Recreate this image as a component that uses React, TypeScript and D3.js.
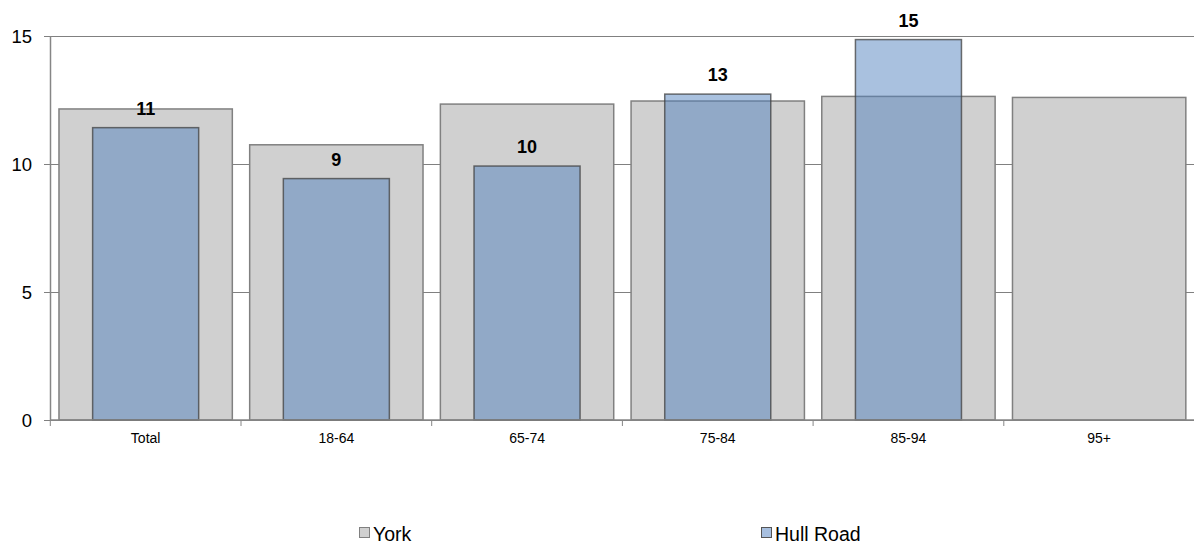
import React from "react";
import * as d3 from "d3";

const categories = ["Total", "18-64", "65-74", "75-84", "85-94", "95+"];
const yorkValues = [12.15, 10.75, 12.34, 12.46, 12.64, 12.6];
const hullRoadValues: (number | null)[] = [11.42, 9.43, 9.92, 12.73, 14.86, null];
const yTicks = [0, 5, 10, 15];
const seriesNames = ["York", "Hull Road"];

const W = 1194;
const H = 545;
const FONT = "Arial, 'Liberation Sans', sans-serif";

export default function App() {
  const x = d3.scaleBand<string>().domain(categories).range([50.3, 1194.5]).padding(0);
  const y = d3.scaleLinear().domain([0, 15]).range([420, 36]);
  const bw = x.bandwidth();
  const grayW = bw * 0.909;
  const blueW = bw * 0.556;

  return (
    <div style={{ position: "absolute", left: 0, top: 0 }}>
      <svg width={W} height={H} style={{ display: "block", fontFamily: FONT }}>
        <rect x={0} y={0} width={W} height={H} fill="#ffffff" />
        {/* gridlines */}
        {yTicks.map((t) => (
          <g key={t}>
            <line x1={44} x2={W} y1={y(t)} y2={y(t)} stroke="#808080" strokeWidth={1} shapeRendering="crispEdges" />
            <text x={32} y={y(t)} dy="0.36em" textAnchor="end" fontSize={18.5} fill="#000">
              {t}
            </text>
          </g>
        ))}
        {/* York bars */}
        {categories.map((c, i) => (
          <rect
            key={"y" + c}
            x={(x(c) as number) + (bw - grayW) / 2}
            y={y(yorkValues[i])}
            width={grayW}
            height={y(0) - y(yorkValues[i])}
            fill="#d0d0d0"
            stroke="#808080"
            strokeWidth={1.5}
          />
        ))}
        {/* Hull Road bars */}
        {categories.map((c, i) => {
          const v = hullRoadValues[i];
          if (v == null) return null;
          return (
            <rect
              key={"h" + c}
              x={(x(c) as number) + (bw - blueW) / 2}
              y={y(v)}
              width={blueW}
              height={y(0) - y(v)}
              fill="rgb(79,129,189)"
              fillOpacity={0.49}
              stroke="#404040"
              strokeOpacity={0.75}
              strokeWidth={1.5}
            />
          );
        })}
        {/* Hull Road labels */}
        {categories.map((c, i) => {
          const v = hullRoadValues[i];
          if (v == null) return null;
          return (
            <text
              key={"l" + c}
              x={(x(c) as number) + bw / 2}
              y={y(v) - 13}
              textAnchor="middle"
              fontSize={18}
              fontWeight="bold"
              fill="#000"
            >
              {Math.round(v)}
            </text>
          );
        })}
        {/* axes */}
        <line x1={50.5} x2={50.5} y1={36} y2={420} stroke="#868686" strokeWidth={1.5} />
        <line x1={50} x2={W} y1={420} y2={420} stroke="#868686" strokeWidth={1.5} />
        {categories.map((c) => (
          <line
            key={"t" + c}
            x1={(x(c) as number)}
            x2={(x(c) as number)}
            y1={420}
            y2={426}
            stroke="#868686"
            strokeWidth={1}
          />
        ))}
        {categories.map((c) => (
          <text
            key={"c" + c}
            x={(x(c) as number) + bw / 2}
            y={443}
            textAnchor="middle"
            fontSize={14}
            fill="#000"
          >
            {c}
          </text>
        ))}
        {/* legend */}
        <g>
          <rect x={359.5} y={527.5} width={10} height={10} fill="#d0d0d0" stroke="#808080" strokeWidth={1} />
          <text x={373} y={541} fontSize={19.5} fill="#000">
            {seriesNames[0]}
          </text>
          <rect x={761.5} y={527.5} width={10} height={10} fill="#a7bfdf" stroke="#555" strokeWidth={1} />
          <text x={775} y={541} fontSize={19.5} fill="#000">
            {seriesNames[1]}
          </text>
        </g>
      </svg>
    </div>
  );
}
